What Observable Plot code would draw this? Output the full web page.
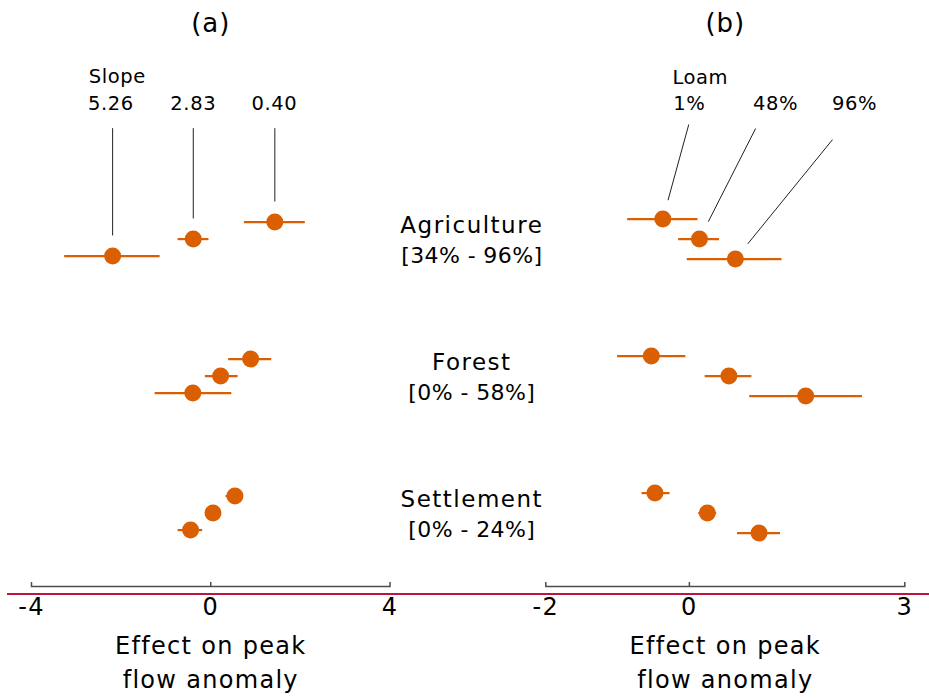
<!DOCTYPE html>
<html><head><meta charset="utf-8">
<script src="https://cdn.jsdelivr.net/npm/d3@7"></script>
<script src="https://cdn.jsdelivr.net/npm/@observablehq/plot@0.6"></script>
<style>
body{margin:0;background:#fff;}
#wrap{position:relative;width:929px;height:700px;overflow:hidden;}
#wrap svg{position:absolute;left:0;top:0;}
#redline{position:absolute;left:7px;top:593px;width:922px;height:2px;background:#c0143c;}
</style></head><body><div id="wrap"></div>
<script>
// ---- data ----
const landUse = ["Agriculture", "Forest", "Settlement"];
const landRange = ["[34% - 96%]", "[0% - 58%]", "[0% - 24%]"];

const slopeHeader = "Slope";
const slopeLevels = ["0.40", "2.83", "5.26"];
const slopeEst = [[1.43, -0.39, -2.19], [0.89, 0.22, -0.40], [0.54, 0.05, -0.45]];
const slopeLo  = [[0.75, -0.73, -3.26], [0.40, -0.12, -1.24], [0.34, -0.10, -0.73]];
const slopeHi  = [[2.11, -0.04, -1.13], [1.36, 0.61, 0.47], [0.72, 0.19, -0.18]];

const loamHeader = "Loam";
const loamLevels = ["1%", "48%", "96%"];
const loamEst = [[-0.37, 0.14, 0.64], [-0.53, 0.55, 1.62], [-0.48, 0.25, 0.97]];
const loamLo  = [[-0.86, -0.15, -0.03], [-1.00, 0.22, 0.84], [-0.66, 0.13, 0.67]];
const loamHi  = [[0.12, 0.42, 1.29], [-0.05, 0.87, 2.41], [-0.27, 0.38, 1.27]];

const ticksA = [-4, 0, 4];
const ticksB = [-2, 0, 3];
const panelTitles = ["(a)", "(b)"];
const xLabel = "Effect on peak\nflow anomaly";

// annotation anchors (data units)
const slopeLabelX = [1.42, -0.39, -2.23];
const slopeLeaderTop = -0.807;
const loamLabelX = [0.0, 1.2, 2.3];
const loamLeaderX = [-0.01, 0.92, 1.99];
const loamLeaderY = [-0.834, -0.805, -0.724];

// ---- build ----
const orange = "#d95f02";
function rows(est, lo, hi, levels, dodge) {
  const out = [];
  landUse.forEach((g, gi) => levels.forEach((lv, li) => out.push({
    group: g, level: lv, est: est[gi][li], lo: lo[gi][li], hi: hi[gi][li], y: gi + (li - 1) * dodge
  })));
  return out;
}
const dataA = rows(slopeEst, slopeLo, slopeHi, slopeLevels, 0.124);
const dataB = rows(loamEst, loamLo, loamHi, loamLevels, 0.146);

function panel({data, ticks, domain, marginLeft, marginRight, title, extra}) {
  return Plot.plot({
    width: 929, height: 700,
    marginTop: 0, marginBottom: 114, marginLeft, marginRight,
    style: {background: "transparent", fontFamily: "DejaVu Sans", fontSize: "24px", color: "#000"},
    x: {domain},
    y: {domain: [0, 2], range: [238.6, 512.6], axis: null},
    marks: [
      Plot.frame({anchor: "bottom", stroke: "#4d4d4d", strokeWidth: 1.5}),
      Plot.axisX(ticks, {tickSize: -4, tickPadding: 15, tickFormat: d => String(d), stroke: "#4d4d4d", strokeWidth: 1.5, fontSize: 24, label: null, fill: "#000"}),
      Plot.ruleY(data, {y: "y", x1: "lo", x2: "hi", stroke: orange, strokeWidth: 2.2}),
      Plot.dot(data, {x: "est", y: "y", r: 8.5, fill: orange}),
      Plot.text([title], {text: d => d, frameAnchor: "top", lineAnchor: "top", dy: 13, fontSize: 26}),
      Plot.text([xLabel], {text: d => d, frameAnchor: "bottom", lineAnchor: "top", dy: 43, fontSize: 24, lineHeight: 1.4167}),
      ...extra
    ]
  });
}

const agriA = dataA.filter(d => d.group === landUse[0]);
const agriB = dataB.filter(d => d.group === landUse[0]);

const svgA = panel({
  data: dataA, ticks: ticksA, domain: [-4, 4], marginLeft: 31, marginRight: 539.5, title: panelTitles[0],
  extra: [
    Plot.arrow(agriA, {x1: "est", x2: "est", y1: () => slopeLeaderTop, y2: "y", headLength: 0, insetEnd: 21, stroke: "#222", strokeWidth: 1}),
    Plot.text(slopeLevels, {x: (d, i) => slopeLabelX[i], text: d => d, frameAnchor: "top", lineAnchor: "top", dy: 95.5, fontSize: 19.5}),
    Plot.text([slopeHeader], {x: () => slopeLabelX[2], text: d => d, frameAnchor: "top", lineAnchor: "top", dy: 69, fontSize: 19.5, textAnchor: "start", dx: -22})
  ]
});

const svgB = panel({
  data: dataB, ticks: ticksB, domain: [-2, 3], marginLeft: 545.3, marginRight: 24.7, title: panelTitles[1],
  extra: [
    Plot.arrow(agriB, {x1: (d, i) => loamLeaderX[i], y1: (d, i) => loamLeaderY[i], x2: "est", y2: "y", headLength: 0, insetEnd: 20, stroke: "#222", strokeWidth: 1}),
    Plot.text(loamLevels, {x: (d, i) => loamLabelX[i], text: d => d, frameAnchor: "top", lineAnchor: "top", dy: 96, fontSize: 19.5}),
    Plot.text([loamHeader], {x: () => loamLabelX[0], text: d => d, frameAnchor: "top", lineAnchor: "top", dy: 70, fontSize: 19.5, textAnchor: "start", dx: -17}),
    Plot.text(landUse, {y: (d, i) => i, text: d => d, frameAnchor: "left", textAnchor: "middle", dx: -74, dy: -13.9, fontSize: 23}),
    Plot.text(landRange, {y: (d, i) => i, text: d => d, frameAnchor: "left", textAnchor: "middle", dx: -74, dy: 16.7, fontSize: 22})
  ]
});

const wrap = document.getElementById("wrap");
wrap.appendChild(svgA);
wrap.appendChild(svgB);
const red = document.createElement("div");
red.id = "redline";
wrap.appendChild(red);

wrap.querySelectorAll("text").forEach(t => {
  const fs = parseFloat(getComputedStyle(t).fontSize);
  const s = t.textContent;
  let ls = 0;
  if (fs >= 25.5) ls = 1;
  else if (fs >= 23.8) ls = 1.3;
  else if (fs >= 22.5) ls = 1.5;
  else if (fs >= 21.5) ls = 0.4;
  else ls = 0.6;
  t.style.letterSpacing = ls + "px";
});
</script>
</body></html>
